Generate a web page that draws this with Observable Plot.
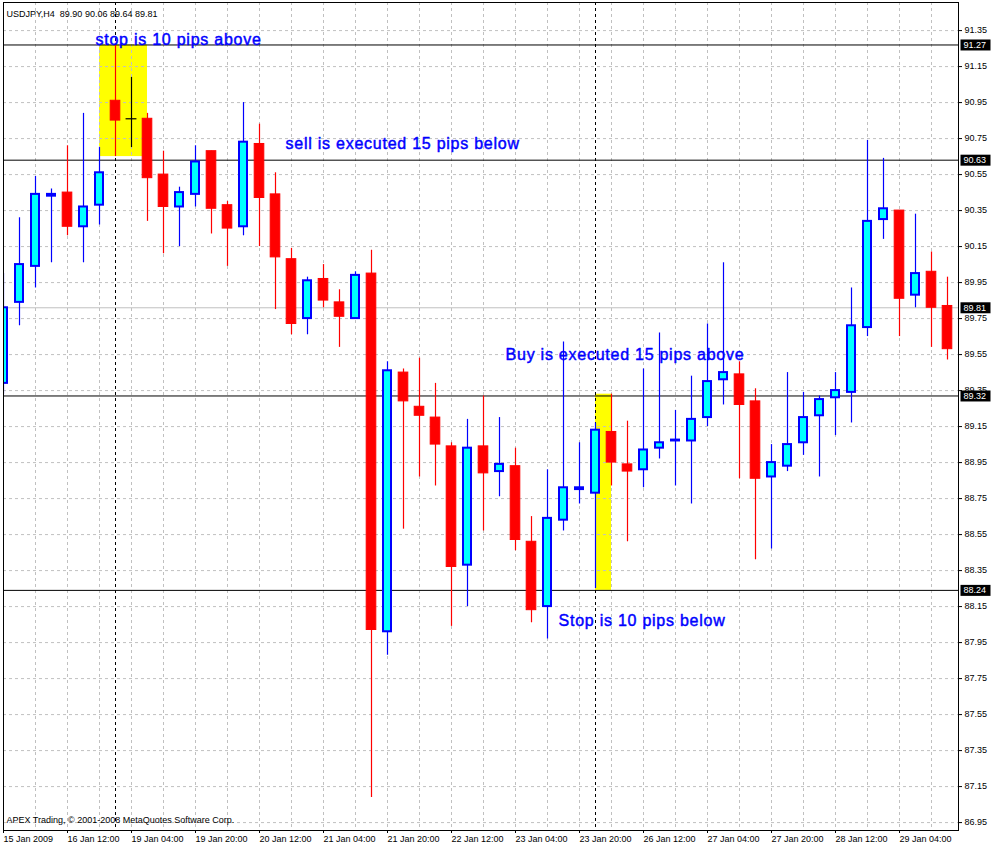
<!DOCTYPE html>
<html><head><meta charset="utf-8">
<script src="https://cdn.jsdelivr.net/npm/d3@7"></script>
<script src="https://cdn.jsdelivr.net/npm/@observablehq/plot@0.6"></script>
<style>
html,body{margin:0;padding:0;background:#fff;}
#chart svg{display:block;}
g[aria-label="text"][font-size="16"] text{letter-spacing:0.75px;}
</style></head><body><div id="chart"></div>
<script>
// USDJPY H4 candles (bar index 0 = first visible bar)
const opens  = [89.39,89.84,90.04,90.43,90.45,90.26,90.38,90.96,90.86,90.86,90.55,90.37,90.44,90.68,90.38,90.26,90.72,90.44,90.08,89.75,
                89.97,89.84,89.75,90.00,88.01,89.45,89.26,89.20,89.04,88.38,89.04,88.90,88.93,88.51,88.15,88.63,88.80,88.78,89.12,88.94,
                88.91,89.03,89.07,89.07,89.20,89.41,89.44,89.29,88.87,88.93,89.06,89.21,89.31,89.34,89.70,90.30,90.35,89.88,90.01,89.82];
const highs  = [90.00,90.31,90.54,90.47,90.71,90.89,90.70,91.27,91.09,90.89,90.68,90.48,90.71,90.68,90.40,90.95,90.83,90.56,90.14,89.98,
                90.05,89.91,90.01,90.13,89.51,89.47,89.53,89.39,89.06,89.19,89.32,89.20,89.03,88.65,88.91,89.62,89.06,89.17,89.33,89.18,
                89.47,89.67,89.24,89.43,89.72,90.06,89.51,89.36,89.05,89.45,89.34,89.32,89.45,89.92,90.74,90.64,90.35,90.33,90.12,89.98];
const lows   = [89.33,89.71,89.92,90.06,90.21,90.06,90.27,90.65,90.70,90.29,90.11,90.15,90.37,90.22,90.04,90.21,90.15,89.80,89.66,89.66,
                89.81,89.59,89.75,87.09,87.88,88.58,88.87,88.82,88.04,88.15,88.57,88.76,88.46,88.06,87.97,88.57,88.72,88.25,88.82,88.51,
                88.81,88.97,88.82,88.72,89.15,89.27,88.86,88.41,88.47,88.90,88.99,88.87,89.10,89.17,89.65,90.19,89.65,89.81,89.59,89.52];
const closes = [89.81,90.05,90.44,90.44,90.26,90.37,90.56,90.85,90.86,90.53,90.37,90.45,90.62,90.36,90.25,90.73,90.42,90.09,89.72,89.96,
                89.85,89.76,89.99,88.02,89.46,89.29,89.21,89.05,88.37,89.03,88.89,88.94,88.52,88.13,88.64,88.81,88.81,89.13,88.95,88.90,
                89.02,89.06,89.075,89.19,89.40,89.45,89.27,88.86,88.95,89.05,89.20,89.30,89.35,89.71,90.29,90.36,89.86,90.00,89.81,89.58];

const xLabelIdx = [0,4,8,12,16,20,24,28,32,36,40,44,48,52,56];
const xLabels = ["15 Jan 2009","16 Jan 12:00","19 Jan 04:00","19 Jan 20:00","20 Jan 12:00","21 Jan 04:00","21 Jan 20:00",
                 "22 Jan 12:00","23 Jan 04:00","23 Jan 20:00","26 Jan 12:00","27 Jan 04:00","27 Jan 20:00","28 Jan 12:00","29 Jan 04:00"];
const yTicks = [91.35,91.15,90.95,90.75,90.55,90.35,90.15,89.95,89.75,89.55,89.35,89.15,88.95,88.75,88.55,88.35,88.15,87.95,87.75,87.55,87.35,87.15,86.95];

const weekSeparators = [7, 37];
const bidPrice = 89.81;
const levelPrices = [91.27, 90.63, 89.32, 88.24];
const tagPrices = [91.27, 90.63, 89.81, 89.32, 88.24];

const zoneStart = [6, 37];
const zoneEnd = [9, 38];
const zoneTop = [91.27, 89.33];
const zoneBottom = [90.65, 88.24];

const noteTexts = ["stop is 10 pips above","sell is executed 15 pips below","Buy is executed 15 pips above","Stop is 10 pips below"];
const noteBar = [5.75, 17.63, 31.38, 34.69];
const notePrice = [91.30, 90.72, 89.55, 88.07];

const headerText = "USDJPY,H4  89.90 90.06 89.64 89.81";
const footerText = "APEX Trading, \u00A9 2001-2008 MetaQuotes Software Corp.";

// ---- build tables ----
const candles = opens.map((o, i) => ({i, o, h: highs[i], l: lows[i], c: closes[i]}));
const ups = candles.filter(d => d.c > d.o);
const downs = candles.filter(d => d.c < d.o);
const flats = candles.filter(d => d.c === d.o);
const zones = zoneStart.map((s, j) => ({x1: s, x2: zoneEnd[j], y1: zoneBottom[j], y2: zoneTop[j]}));
const notes = noteTexts.map((t, j) => ({t, x: noteBar[j], y: notePrice[j]}));

const boxSymbol = {draw(ctx) { ctx.rect(-15, -5.5, 30, 11); }};
const font = "'Liberation Sans', Arial, sans-serif";

const plot = Plot.plot({
  width: 996, height: 848,
  marginTop: 2, marginBottom: 18, marginLeft: 3, marginRight: 38,
  style: {fontFamily: font, background: "#fff", color: "black"},
  x: {domain: [0, 955 / 16], axis: null},
  y: {domain: [86.906, 91.506], axis: null},
  marks: [
    Plot.rect(zones, {x1: "x1", x2: "x2", y1: "y1", y2: "y2", fill: "#ffff00"}),
    Plot.ruleY(yTicks, {stroke: "#c0c0c0", strokeDasharray: "3,3"}),
    Plot.ruleX(d3.range(2, 60, 2), {stroke: "#c0c0c0", strokeDasharray: "3,3"}),
    Plot.ruleX(weekSeparators, {stroke: "black", strokeDasharray: "3,3"}),
    Plot.ruleY([bidPrice], {stroke: "#c0c0c0"}),
    Plot.ruleY(levelPrices, {stroke: "black"}),
    // wicks
    Plot.ruleX(ups, {x: "i", y1: "l", y2: "h", stroke: "#0000ff", strokeWidth: 1.2, clip: true}),
    Plot.ruleX(downs, {x: "i", y1: "l", y2: "h", stroke: "#ff0000", strokeWidth: 1.2, clip: true}),
    Plot.ruleX(flats, {x: "i", y1: "l", y2: "h", stroke: "black", strokeWidth: 1.2, clip: true}),
    // bodies
    Plot.rect(ups, {x1: d => d.i - 0.25, x2: d => d.i + 0.25, y1: "o", y2: "c", fill: "#00ffff", stroke: "#0000ff", strokeWidth: 2, clip: true}),
    Plot.rect(downs, {x1: d => d.i - 0.3, x2: d => d.i + 0.3, y1: "o", y2: "c", fill: "#ff0000", stroke: "#ff0000", strokeWidth: 1, clip: true}),
    Plot.ruleY(flats, {y: "o", x1: d => d.i - 0.34, x2: d => d.i + 0.34, stroke: "black", strokeWidth: 1.2}),
    Plot.frame({stroke: "black"}),
    Plot.axisY(yTicks, {anchor: "right", tickSize: 3, tickPadding: 3, tickFormat: d => d.toFixed(2), fontSize: 9, label: null}),
    Plot.axisX(xLabelIdx, {anchor: "bottom", tickSize: 3, tickPadding: 2, tickFormat: d => xLabels[xLabelIdx.indexOf(d)], textAnchor: "start", fontSize: 9, label: null}),
    // price tags on the axis
    Plot.dot(tagPrices, {y: d => d, frameAnchor: "right", dx: 17, symbol: boxSymbol, fill: "black", stroke: "none"}),
    Plot.text(tagPrices, {y: d => d, text: d => d.toFixed(2), frameAnchor: "right", dx: 5, textAnchor: "start", fill: "white", fontSize: 9}),
    // texts
    Plot.text([headerText], {text: d => d, frameAnchor: "top-left", dx: 3, dy: 8, textAnchor: "start", fontSize: 9}),
    Plot.text([footerText], {text: d => d, frameAnchor: "bottom-left", dx: 3, dy: -8, textAnchor: "start", fontSize: 9}),
    Plot.text(notes, {x: "x", y: "y", text: "t", textAnchor: "start", fill: "#0000ff", stroke: "#0000ff", strokeWidth: 0.45, fontSize: 16})
  ]
});
document.getElementById("chart").appendChild(plot);
</script></body></html>
